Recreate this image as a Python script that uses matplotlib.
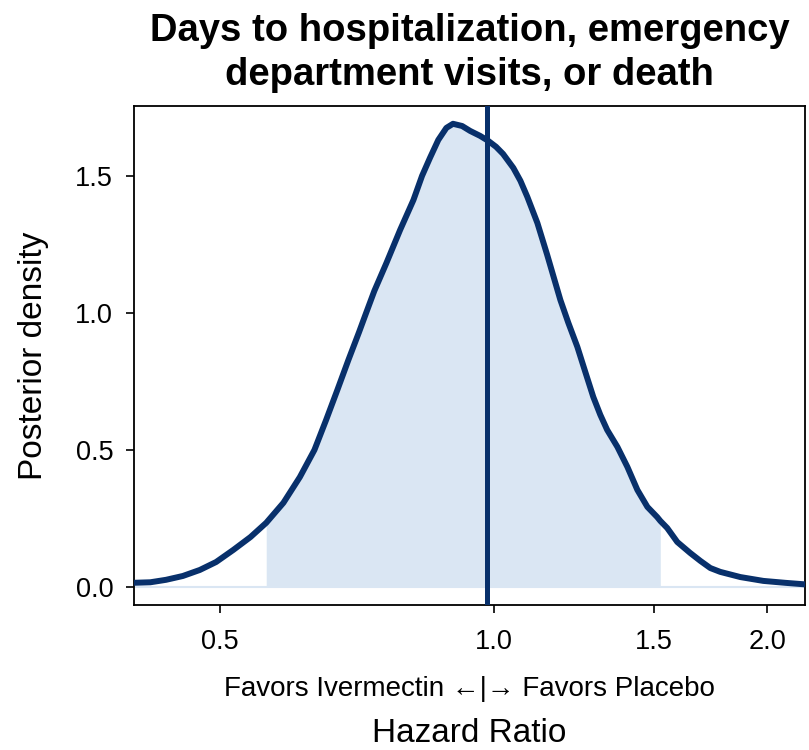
import numpy as np
import matplotlib.pyplot as plt
from matplotlib import font_manager

# Posterior density of the hazard ratio
hazard_ratio = [0.401, 0.419, 0.436, 0.455, 0.475, 0.495, 0.517, 0.540, 0.562, 0.587,
                0.612, 0.635, 0.654, 0.673, 0.692, 0.711, 0.722, 0.739, 0.762, 0.789,
                0.816, 0.834, 0.851, 0.869, 0.887, 0.902, 0.923, 0.942, 0.966, 0.986,
                1.006, 1.024, 1.051, 1.070, 1.089, 1.117, 1.145, 1.184, 1.208, 1.236,
                1.261, 1.287, 1.310, 1.333, 1.368, 1.403, 1.439, 1.476, 1.513, 1.525,
                1.552, 1.592, 1.645, 1.688, 1.731, 1.775, 1.868, 1.980, 2.093, 2.208]
density = [0.015, 0.017, 0.026, 0.040, 0.062, 0.091, 0.135, 0.182, 0.234, 0.307,
           0.401, 0.500, 0.609, 0.719, 0.828, 0.930, 0.990, 1.080, 1.182, 1.303,
           1.412, 1.500, 1.566, 1.631, 1.675, 1.690, 1.682, 1.664, 1.646, 1.628,
           1.606, 1.580, 1.529, 1.482, 1.423, 1.328, 1.212, 1.047, 0.964, 0.876,
           0.785, 0.693, 0.628, 0.573, 0.511, 0.438, 0.354, 0.292, 0.255, 0.241,
           0.215, 0.164, 0.124, 0.095, 0.069, 0.055, 0.036, 0.022, 0.015, 0.009]

# 95% credible interval and posterior median
ci_low, ci_high = 0.562, 1.525
median_hr = 0.983

x_ticks = [0.5, 1.0, 1.5, 2.0]
x_tick_labels = ["0.5", "1.0", "1.5", "2.0"]
y_ticks = [0.0, 0.5, 1.0, 1.5]
y_tick_labels = ["0.0", "0.5", "1.0", "1.5"]

LINE_COLOR = "#08306b"
FILL_COLOR = "#dae6f3"

# The reference uses a condensed Helvetica-like face; use Liberation Sans Narrow if present
names = {f.name for f in font_manager.fontManager.ttflist}
if "Liberation Sans Narrow" in names:
    plt.rcParams["font.family"] = ["Liberation Sans Narrow", "Liberation Sans", "DejaVu Sans"]
    fs_title, fs_label, fs_favors, fs_tick, title_ls = 33, 28, 24, 22, 1.06
else:
    plt.rcParams["font.family"] = ["Liberation Sans", "DejaVu Sans"]
    fs_title, fs_label, fs_favors, fs_tick, title_ls = 27.5, 24, 20, 19.5, 1.28

fig = plt.figure(figsize=(8.09, 7.5), dpi=100)
ax = fig.add_axes([0.1656, 0.1933, 0.8294, 0.6654])

x = np.array(hazard_ratio)
y = np.array(density)
inside = (x >= ci_low) & (x <= ci_high)

ax.fill_between(x, 0, y, where=inside, color=FILL_COLOR, linewidth=0, zorder=1)
ax.axhline(0, color=FILL_COLOR, lw=1.5, zorder=1)
ax.plot(x, y, color=LINE_COLOR, lw=4.3, solid_capstyle="butt", solid_joinstyle="round", zorder=3)
ax.axvline(median_hr, color=LINE_COLOR, lw=3.6, zorder=4)

ax.set_xscale("log")
ax.set_xlim(0.402, 2.20)
ax.set_ylim(-0.066, 1.755)
ax.set_xticks(x_ticks)
ax.set_xticklabels(x_tick_labels)
ax.minorticks_off()
ax.set_yticks(y_ticks)
ax.set_yticklabels(y_tick_labels)
ax.tick_params(axis="both", labelsize=fs_tick, length=6, width=1.2)
ax.tick_params(axis="x", pad=11)
ax.tick_params(axis="y", pad=9)

for spine in ax.spines.values():
    spine.set_linewidth(1.3)

ax.set_ylabel("Posterior density", fontsize=fs_label, va="center")
ax.yaxis.set_label_coords(-0.15, 0.5)
ax.set_xlabel("Hazard Ratio", fontsize=fs_label, va="center")
ax.xaxis.set_label_coords(0.5, -0.2565)
ax.text(0.5, -0.168, "Favors Ivermectin \u2190|\u2192 Favors Placebo", transform=ax.transAxes,
        ha="center", va="center", fontsize=fs_favors)

ax.set_title("Days to hospitalization, emergency\ndepartment visits, or death",
             fontsize=fs_title, fontweight="bold", y=1.09, va="center", linespacing=title_ls)

fig.savefig("out.png", dpi=100)
